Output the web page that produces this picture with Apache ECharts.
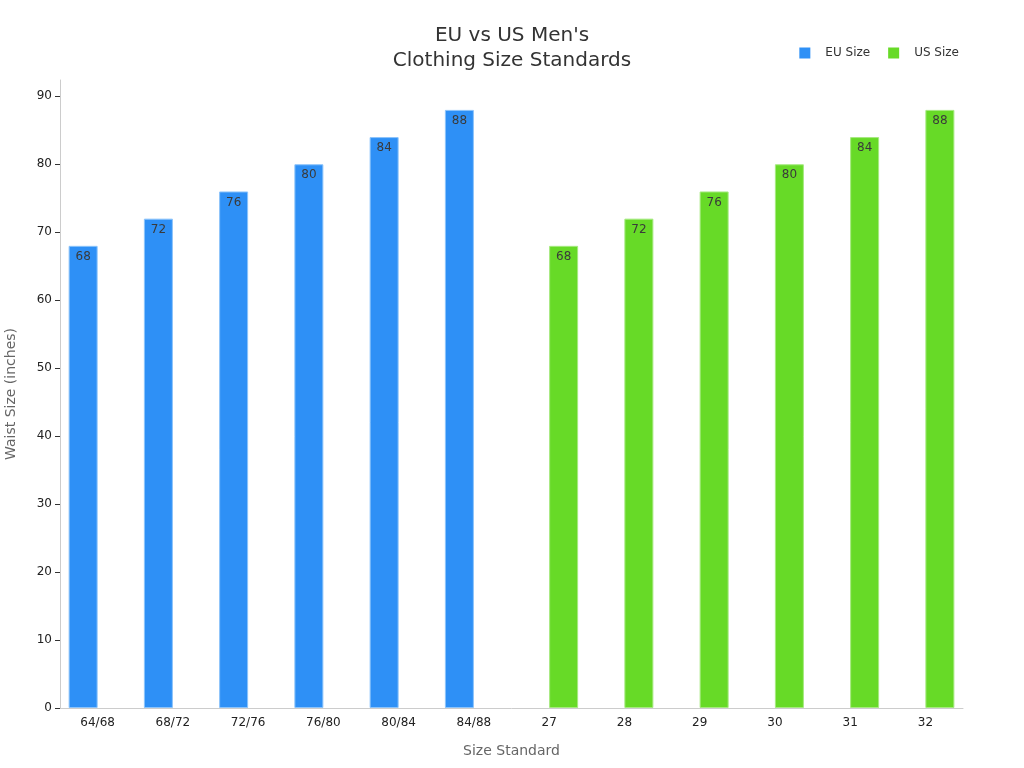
<!DOCTYPE html>
<html><head><meta charset="utf-8">
<script src="https://cdn.jsdelivr.net/npm/echarts@6/dist/echarts.min.js"></script>
<style>html,body{margin:0;padding:0;background:#fff}#c{width:1024px;height:768px}</style>
</head><body><div id="c"></div>
<script>
const categories = ['64/68','68/72','72/76','76/80','80/84','84/88','27','28','29','30','31','32'];
const euValues = [68,72,76,80,84,88,null,null,null,null,null,null];
const usValues = [null,null,null,null,null,null,68,72,76,80,84,88];
const yTicks = [0,10,20,30,40,50,60,70,80,90];
const font = 'DejaVu Sans';
const chart = echarts.init(document.getElementById('c'));
const lbl = {show:true, position:'insideTop', color:'#3a3a3a', fontSize:12, fontFamily:font, distance:5};
chart.setOption({
  animation:false,
  title:{text:"EU vs US Men's\nClothing Size Standards", left:'center', top:18,
    textStyle:{fontSize:20, fontWeight:'normal', color:'#333', fontFamily:font, lineHeight:25}},
  legend:{top:42, right:60, icon:'rect', itemWidth:11, itemHeight:11, itemGap:18,
    itemStyle:{borderWidth:0},
    textStyle:{fontSize:12, color:'#333', fontFamily:font, padding:[0,0,0,10]}},
  grid:{left:60, right:61, top:80, bottom:60, outerBoundsMode:'none', containLabel:false},
  xAxis:{type:'category', data:categories, name:'Size Standard', nameLocation:'middle', nameGap:36,
    nameTextStyle:{fontSize:14, color:'#666', fontFamily:font},
    axisLine:{lineStyle:{color:'#ccc'}}, axisTick:{alignWithLabel:true, lineStyle:{color:'#999'}},
    axisLabel:{fontSize:12, color:'#222', fontFamily:font, margin:9}},
  yAxis:{type:'value', min:0, max:92.4, name:'Waist Size (inches)', nameLocation:'middle', nameGap:42,
    nameTextStyle:{fontSize:14, color:'#666', fontFamily:font},
    axisLine:{show:true, lineStyle:{color:'#ccc'}}, axisTick:{show:true, customValues:yTicks, lineStyle:{color:'#333'}},
    axisLabel:{customValues:yTicks, fontSize:12, color:'#222', fontFamily:font},
    splitLine:{show:false}},
  series:[
    {name:'EU Size', type:'bar', data:euValues, barWidth:29, barGap:'0%',
      itemStyle:{color:'#2e90f6', borderColor:'#8cc4fb', borderWidth:1}, label:lbl},
    {name:'US Size', type:'bar', data:usValues, barWidth:29,
      itemStyle:{color:'#67da27', borderColor:'#a6ea80', borderWidth:1}, label:lbl}
  ]
});
</script></body></html>
